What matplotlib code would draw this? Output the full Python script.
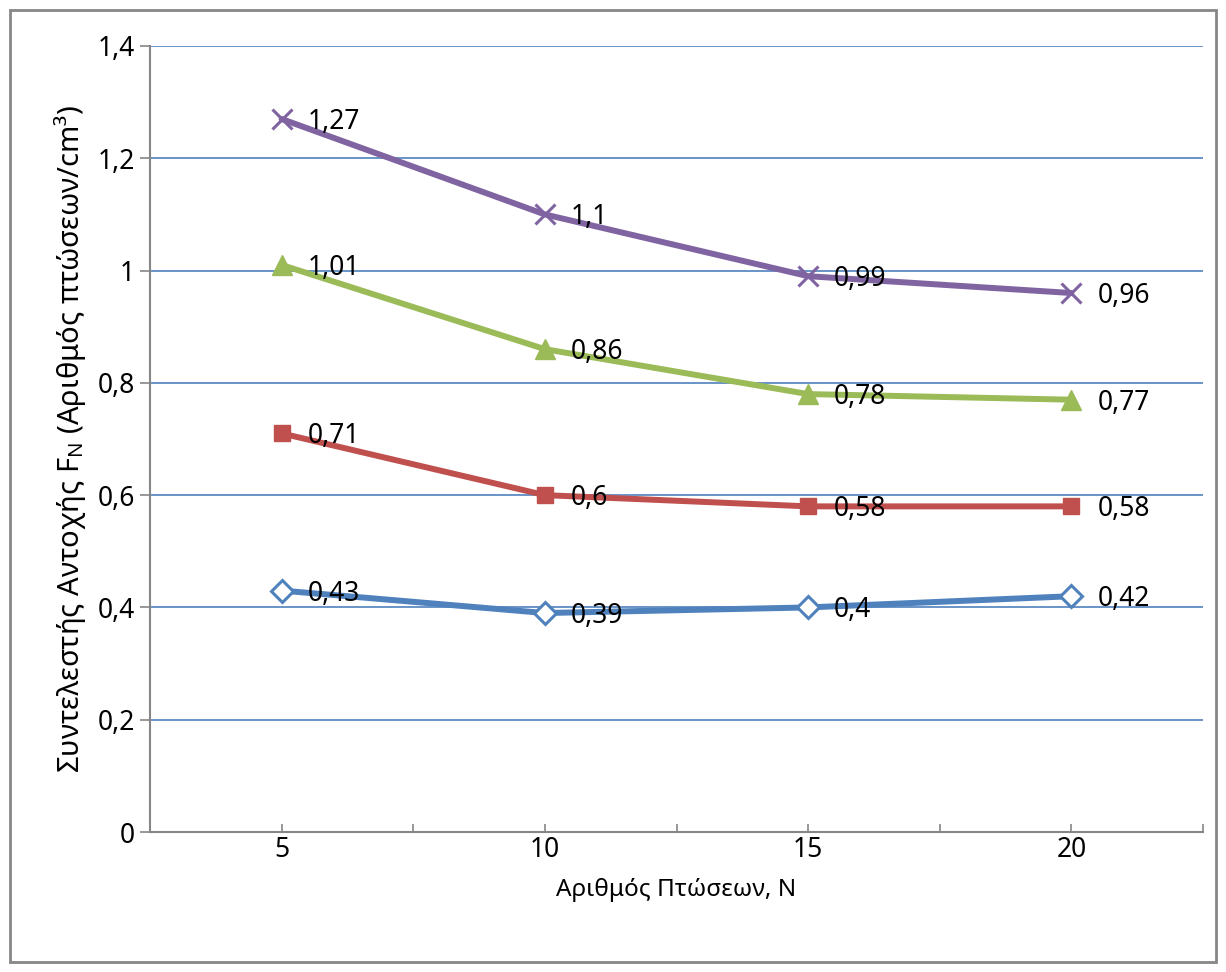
import numpy as np
import matplotlib
matplotlib.use("Agg")
import matplotlib.pyplot as plt
from matplotlib.patches import Rectangle
from matplotlib.ticker import FuncFormatter, MultipleLocator

plt.rcParams['font.family'] = ['Noto Sans', 'DejaVu Sans']

# data
drops = [5, 10, 15, 20]
series_a = [0.43, 0.39, 0.40, 0.42]
series_b = [0.71, 0.60, 0.58, 0.58]
series_c = [1.01, 0.86, 0.78, 0.77]
series_d = [1.27, 1.10, 0.99, 0.96]

x_label = "Αριθμός Πτώσεων, N"
y_label = "Συντελεστής Αντοχής F$_\\mathregular{N}$ (Αριθμός πτώσεων/cm³)"


def comma(v, pos=None):
    return ("%g" % round(v, 2)).replace('.', ',')


fig = plt.figure(figsize=(12.26, 9.72), dpi=100)
ax = fig.add_axes([150 / 1226, 1 - 832 / 972, (1203 - 150) / 1226, (832 - 46) / 972])

styles = [
    (series_a, '#4F81BD', dict(marker='D', markersize=11, markerfacecolor='white',
                               markeredgecolor='#4F81BD', markeredgewidth=2.2)),
    (series_b, '#C0504D', dict(marker='s', markersize=11, markerfacecolor='#C0504D',
                               markeredgecolor='#C0504D')),
    (series_c, '#9BBB59', dict(marker='^', markersize=15, markerfacecolor='#9BBB59',
                               markeredgecolor='#9BBB59')),
    (series_d, '#8064A2', dict(marker='x', markersize=14, markeredgewidth=2.2,
                               markeredgecolor='#8064A2')),
]

for vals, col, mk in styles:
    ax.plot(drops, vals, color=col, lw=4.3, solid_capstyle='round', zorder=3, **mk)
    for x, y in zip(drops, vals):
        ax.annotate(comma(y), (x, y), xytext=(26, -3), textcoords='offset pixels',
                    ha='left', va='center', fontsize=19, color='black', zorder=4)

ax.set_xlim(2.5, 22.5)
ax.set_ylim(0, 1.4)
ax.set_xticks(drops)
ax.xaxis.set_minor_locator(MultipleLocator(2.5))
ax.yaxis.set_major_locator(MultipleLocator(0.2))
ax.yaxis.set_major_formatter(FuncFormatter(comma))

ax.yaxis.grid(True, color='#4F81BD', lw=1.2)
ax.set_axisbelow(True)

for s in ['top', 'right']:
    ax.spines[s].set_visible(False)
for s in ['left', 'bottom']:
    ax.spines[s].set_color('#868686')
    ax.spines[s].set_linewidth(1.5)

ax.tick_params(axis='x', which='both', direction='in', length=6, width=1.2,
               color='#868686', labelsize=19, pad=3)
ax.tick_params(axis='y', direction='out', length=7, width=1.2,
               color='#868686', labelsize=19, pad=4)

ax.set_xlabel(x_label, fontsize=17.5, labelpad=10)
ax.set_ylabel(y_label, fontsize=21, labelpad=7)

fig.patches.append(Rectangle((10 / 1226, 10 / 972), 1206 / 1226, 952 / 972,
                             transform=fig.transFigure, fill=False,
                             edgecolor='#868686', lw=2))

fig.savefig('out.png', dpi=100, facecolor='white')
